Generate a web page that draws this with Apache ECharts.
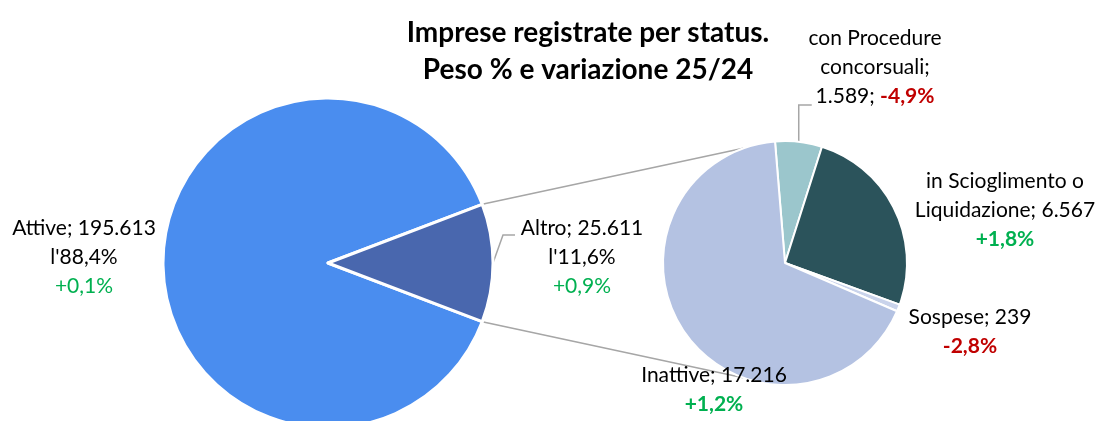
<!DOCTYPE html>
<html>
<head>
<meta charset="utf-8">
<script src="https://cdn.jsdelivr.net/npm/echarts@6/dist/echarts.min.js"></script>
<style>
  html, body { margin: 0; padding: 0; background: #fff; }
  #main { width: 1100px; height: 421px; }
</style>
</head>
<body>
<div id="main"></div>
<script>
// dati
var leftNames = ['Attive', 'Altro'];
var leftValues = [195613, 25611];
var leftChange = ['+0,1%', '+0,9%'];

var rightNames = ['con Procedure\nconcorsuali;', 'in Scioglimento o\nLiquidazione;', 'Sospese;', 'Inattive;'];
var rightValues = [1589, 6567, 239, 17216];
var rightChange = ['-4,9%', '+1,8%', '-2,8%', '+1,2%'];

// geometria
var C1 = [328, 263], R1 = 165;
var C2 = [785, 263], R2 = 122;
var FONT = 'Lato, "Open Sans", sans-serif';
var FS = 21;

function fmt(n) {
  return String(n).replace(/\B(?=(\d{3})+(?!\d))/g, '.');
}
function pct(v, tot) {
  return (v / tot * 100).toFixed(1).replace('.', ',');
}

var leftTotal = leftValues[0] + leftValues[1];
var altroAngle = 360 * leftValues[1] / leftTotal;

var leftColors = ['#4A8DEF', '#4967AE'];
var rightColors = ['#9BC6CC', '#2B535B', '#C9D3EB', '#B4C2E2'];

// posizione etichette (centro blocco)
var leftLabelPos = [[84, 257], [582, 257]];
var rightLabelPos = [[875, 67], [1005, 210], [970, 332], [714, 390]];

var leftData = leftNames.map(function (n, i) {
  return {
    name: n,
    value: leftValues[i],
    itemStyle: { color: leftColors[i] },
    labelLine: { show: i === 1 },
    label: {
      formatter: '{t|' + n + '; ' + fmt(leftValues[i]) + '}\n{t|l\'' + pct(leftValues[i], leftTotal) + '%}\n{g|' + leftChange[i] + '}'
    }
  };
});

var rightData = rightNames.map(function (n, i) {
  var chg = rightChange[i];
  var cs = chg.charAt(0) === '-' ? 'r' : 'g';
  var txt;
  if (i === 0) {
    txt = n.split('\n').map(function (s) { return '{t|' + s + '}'; }).join('\n') +
      '\n{t|' + fmt(rightValues[i]) + '; }{' + cs + '|' + chg + '}';
  } else {
    var lines = n.split('\n');
    lines[lines.length - 1] += ' ' + fmt(rightValues[i]);
    txt = lines.map(function (s) { return '{t|' + s + '}'; }).join('\n') + '\n{' + cs + '|' + chg + '}';
  }
  return {
    name: n.replace('\n', ' '),
    value: rightValues[i],
    itemStyle: { color: rightColors[i] },
    labelLine: { show: i === 0 },
    label: { formatter: txt }
  };
});

var rich = {
  t: { fontFamily: FONT, fontSize: FS, color: '#000', lineHeight: 29 },
  g: { fontFamily: FONT, fontSize: FS, color: '#00B050', lineHeight: 29 },
  r: { fontFamily: FONT, fontSize: FS, color: '#C00000', lineHeight: 29, fontWeight: 'bold' }
};
var richBold = {
  t: rich.t,
  g: { fontFamily: FONT, fontSize: FS, color: '#00B050', lineHeight: 29, fontWeight: 'bold' },
  r: rich.r
};

// linee di collegamento tra le due torte
function pt(c, r, deg) {
  var a = deg * Math.PI / 180;
  return [c[0] + r * Math.cos(a), c[1] - r * Math.sin(a)];
}
var half = altroAngle / 2;
var connUp = [pt(C1, R1, half), pt(C2, R2, 110)];
var connDown = [pt(C1, R1, -half), pt(C2, R2, 250)];

var chart = echarts.init(document.getElementById('main'));
chart.setOption({
  backgroundColor: '#fff',
  title: {
    text: 'Imprese registrate per status.\nPeso % e variazione 25/24',
    left: 583,
    top: 9,
    textAlign: 'center',
    textStyle: { fontFamily: FONT, fontSize: 28, fontWeight: 'bold', color: '#000', lineHeight: 37 }
  },
  graphic: [
    { type: 'polyline', z: 0, shape: { points: connUp }, style: { stroke: '#A6A6A6', lineWidth: 1.5, fill: null } },
    { type: 'polyline', z: 0, shape: { points: connDown }, style: { stroke: '#A6A6A6', lineWidth: 1.5, fill: null } }
  ],
  series: [
    {
      type: 'pie',
      z: 2,
      center: C1,
      radius: R1,
      startAngle: 360 - half,
      clockwise: true,
      animation: false,
      silent: true,
      itemStyle: { borderColor: '#fff', borderWidth: 3 },
      label: { show: true, position: 'outside', rich: rich, align: 'center', overflow: 'none', edgeDistance: 0, bleedMargin: 0 },
      labelLine: { lineStyle: { color: '#A6A6A6', width: 1.5 } },
      labelLayout: function (p) {
        var pos = leftLabelPos[p.dataIndex];
        var res = { x: pos[0], y: pos[1], align: 'center', verticalAlign: 'middle' };
        if (p.dataIndex === 1 && p.labelLinePoints) {
          var s = p.labelLinePoints[0];
          res.labelLinePoints = [s, [s[0] + 10, pos[1] - 22], [s[0] + 22, pos[1] - 22]];
        }
        return res;
      },
      data: leftData
    },
    {
      type: 'pie',
      z: 2,
      center: C2,
      radius: R2,
      startAngle: 94.7,
      clockwise: true,
      animation: false,
      silent: true,
      itemStyle: { borderColor: '#fff', borderWidth: 2 },
      label: { show: true, position: 'outside', rich: richBold, align: 'center', overflow: 'none', edgeDistance: 0, bleedMargin: 0 },
      labelLine: { lineStyle: { color: '#A6A6A6', width: 1.5 } },
      labelLayout: function (p) {
        var pos = rightLabelPos[p.dataIndex];
        var res = { x: pos[0], y: pos[1], align: 'center', verticalAlign: 'middle' };
        if (p.dataIndex === 0 && p.labelLinePoints) {
          var s = p.labelLinePoints[0];
          res.labelLinePoints = [s, [s[0], pos[1] + 38], [s[0] + 13, pos[1] + 38]];
        }
        return res;
      },
      data: rightData
    }
  ]
});
</script>
</body>
</html>
